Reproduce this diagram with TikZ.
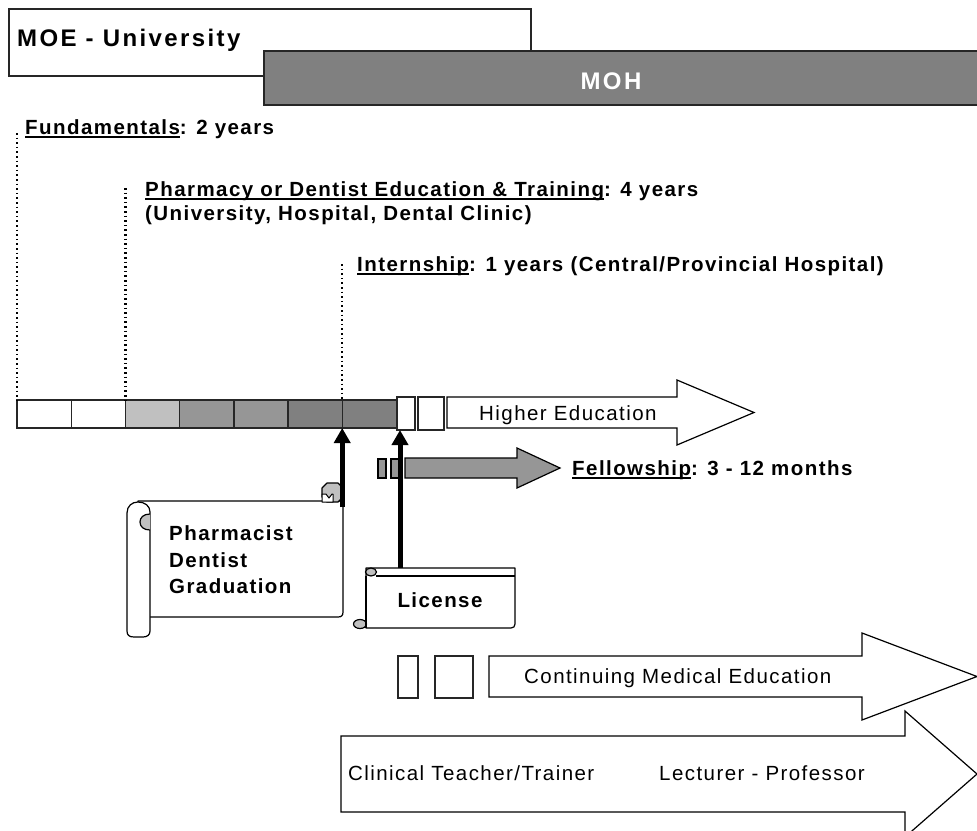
\documentclass[tikz,border=0pt]{standalone}
\usepackage{fontspec}
\setmainfont{Liberation Sans}[LetterSpace=7]
\usetikzlibrary{arrows.meta}
\definecolor{tonelight}{HTML}{C0C0C0}
\definecolor{tonemid}{HTML}{969696}
\definecolor{tonedark}{HTML}{808080}
\definecolor{edge}{HTML}{262626}
% underlined word with a heavy rule
\newcommand\ulx[1]{\setbox0=\hbox{#1}\rlap{\rule[-3.5pt]{\wd0}{1.8pt}}\box0}
\tikzset{
  txt/.style={font=\fontsize{20.5}{26}\selectfont, inner sep=0pt, anchor=base west},
  btxt/.style={font=\fontsize{20.5}{26}\selectfont\bfseries, inner sep=0pt, anchor=base west},
  htxt/.style={font=\fontsize{24}{28}\selectfont\bfseries\addfontfeature{LetterSpace=10}, inner sep=0pt, anchor=base west},
  frame/.style={draw=edge, line width=1.4pt, outer sep=0pt},
  cell/.style={frame, minimum width=54.2pt, minimum height=28pt, inner sep=0pt, anchor=north west},
  tag/.style={frame, minimum height=33pt, inner sep=0pt, anchor=north west, fill=white},
  arrowbox/.style={draw=black, line width=1.2pt, line join=miter},
  dotline/.style={line width=2.2pt, dash pattern=on 1.6pt off 3pt},
  pointer/.style={line width=5pt, -{Triangle[width=16pt,length=15pt]}},
  scrollline/.style={draw=black, line width=1.2pt, line join=round},
}
\begin{document}
\begin{tikzpicture}[x=1pt,y=-1pt]
\useasboundingbox (0,0) rectangle (977,830);
\clip (0,0) rectangle (977,830);

% ministries
\node[frame, fill=white, minimum width=522pt, minimum height=67pt, inner sep=0pt, anchor=north west] (moe) at (9,9) {};
\node[htxt] (moetxt) at (17,46) {MOE - University};
\node[frame, fill=tonedark, minimum width=730pt, minimum height=54pt, inner sep=0pt, anchor=north west] (moh) at (264,51) {};
\node[htxt, anchor=base, text=white] (mohtxt) at (611,89) {MOH};

% phase headings
\node[btxt] (fund) at (25,134) {\ulx{Fundamentals}: 2 years};
\node[btxt] (pharm) at (145,196) {\ulx{Pharmacy or Dentist Education \& Training}: 4 years};
\node[btxt] (pharm2) at (145,220) {(University, Hospital, Dental Clinic)};
\node[btxt] (intern) at (357,271) {\ulx{Internship}: 1 years (Central/Provincial Hospital)};

% timeline cells
\node[cell, fill=white]     (c1) at (17,400) {};
\node[cell, fill=white]     (c2) at (c1.north east) {};
\node[cell, fill=tonelight] (c3) at (c2.north east) {};
\node[cell, fill=tonemid]   (c4) at (c3.north east) {};
\node[cell, fill=tonemid]   (c5) at (c4.north east) {};
\node[cell, fill=tonedark]  (c6) at (c5.north east) {};
\node[cell, fill=tonedark]  (c7) at (c6.north east) {};

% phase markers
\coordinate (fundtop) at (17,133);
\coordinate (pharmtop) at (c2.north east |- 0,188);
\coordinate (interntop) at (c6.north east |- 0,264);
\draw[dotline] (fundtop) -- (c1.north west);
\draw[dotline] (pharmtop) -- (c2.north east);
\draw[dotline] (interntop) -- (c6.north east);

% higher education
\node[tag, minimum width=18pt] (h1) at (397,397) {};
\node[tag, minimum width=26pt] (h2) at (418,397) {};
\draw[arrowbox, fill=white] (447,397) -- (677,397) -- (677,380) -- (754,412.5)
  -- (677,445) -- (677,428) -- (447,428) -- cycle;
\node[txt] (higher) at (479,420) {Higher Education};

% fellowship
\draw[arrowbox, fill=tonemid] (378,459) rectangle (386,478);
\draw[arrowbox, fill=tonemid] (391,459) rectangle (402,478);
\draw[arrowbox, fill=tonemid] (405,458) -- (517,458) -- (517,448) -- (560,468)
  -- (517,488) -- (517,478) -- (405,478) -- cycle;
\node[btxt] (fellow) at (572,475) {\ulx{Fellowship}: 3 - 12 months};

% graduation scroll
\draw[scrollline, fill=white] (138,501) -- (343,501) -- (343,612)
  .. controls (343,615.5) and (341.5,617) .. (338,617) -- (140,617) -- cycle;
\draw[scrollline, fill=white] (150,512) -- (150,631)
  .. controls (150,635) and (147,637) .. (143,637) -- (134,637)
  .. controls (129,637) and (127,635) .. (127,631) -- (127,513)
  .. controls (127,506) and (132,502) .. (138,502)
  .. controls (145,502) and (150,506) .. (150,512) -- cycle;
\draw[scrollline, fill=tonelight] (150,514) .. controls (143,514) and (140,518) .. (140,522)
  .. controls (140,527) and (144,530) .. (150,530);
\draw[scrollline, fill=tonelight] (327,483) -- (338,483) -- (343,488) -- (343,497)
  -- (338,502) -- (327,502) -- (322,497) -- (322,488) -- cycle;
\draw[scrollline, fill=white, line width=1pt] (322,502) -- (322,494) -- (326,494)
  -- (329,498) -- (332,494) -- (333,494) -- (333,502) -- cycle;
\node[btxt] (grad1) at (169,540) {Pharmacist};
\node[btxt] (grad2) at (169,567) {Dentist};
\node[btxt] (grad3) at (169,593) {Graduation};
\coordinate (gradtop) at (c6.south east |- 0,507);
\draw[pointer] (gradtop) -- (c6.south east);

% license scroll
\draw[scrollline, fill=white] (366,568) -- (515,568) -- (515,624)
  .. controls (515,626.5) and (513.5,628) .. (511,628) -- (366,628) -- cycle;
\draw[scrollline] (376,576) -- (515,576);
\draw[scrollline, fill=tonelight] (371,572) ellipse[x radius=5.5, y radius=4];
\draw[scrollline, fill=tonelight] (360,624) ellipse[x radius=6.5, y radius=4.5];
\draw[scrollline] (366,576) -- (366,628);
\node[btxt, anchor=base] (lic) at (440,607) {License};
\coordinate (licend) at ([xshift=3pt]h1.south west);
\coordinate (lictop) at (licend |- 0,568);
\draw[pointer] (lictop) -- (licend);

% continuing medical education
\node[tag, minimum width=20pt, minimum height=42pt] (m1) at (398,656) {};
\node[tag, minimum width=38pt, minimum height=42pt] (m2) at (435,656) {};
\draw[arrowbox, fill=white] (489,656) -- (862,656) -- (862,633) -- (977,676.5)
  -- (862,720) -- (862,697) -- (489,697) -- cycle;
\node[txt] (cme) at (524,683) {Continuing Medical Education};

% teaching career
\draw[arrowbox, fill=white] (341,736) -- (905,736) -- (905,711) -- (977,774)
  -- (905,837) -- (905,812) -- (341,812) -- cycle;
\node[txt] (clin) at (348,780) {Clinical Teacher/Trainer};
\node[txt] (lect) at (659,780) {Lecturer - Professor};
\end{tikzpicture}
\end{document}
